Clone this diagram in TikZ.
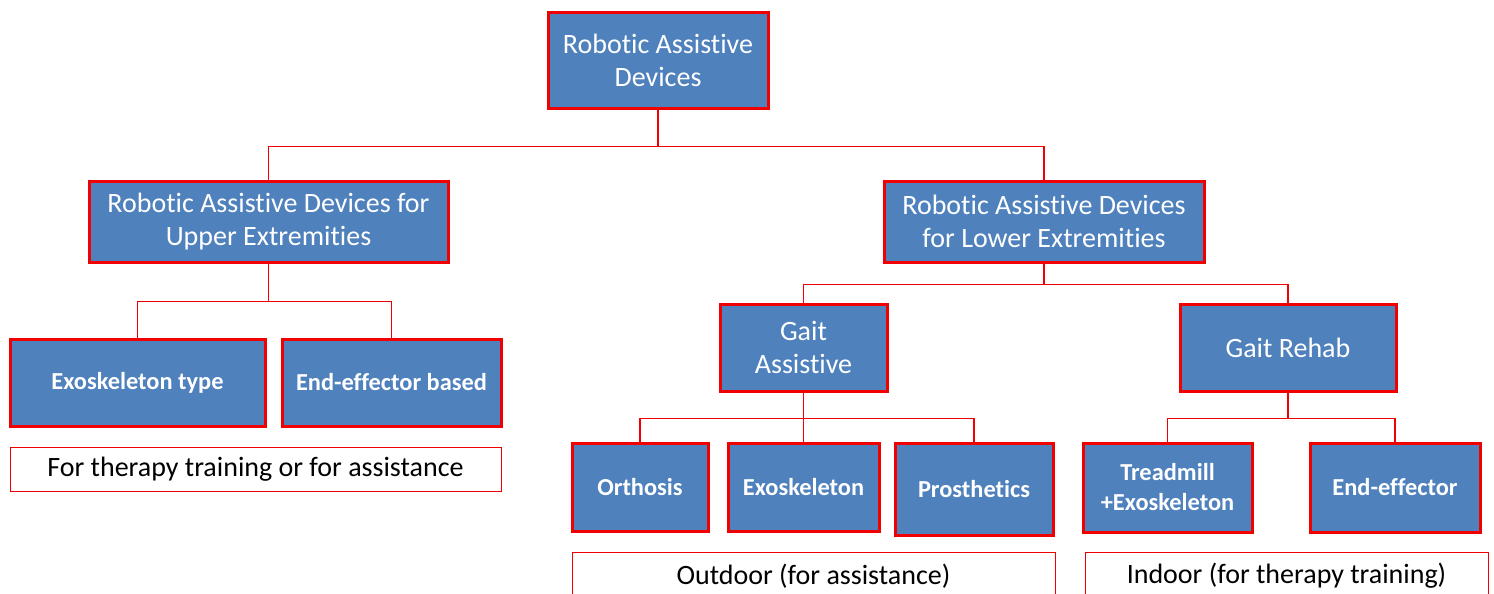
\documentclass[tikz,border=0pt]{standalone}
\usepackage{fontspec}
\setmainfont[Ligatures=NoCommon]{Carlito}
\usepackage{tikz}
\definecolor{boxblue}{RGB}{79,129,189}
\definecolor{boxred}{RGB}{240,0,0}
\tikzset{
  catbox/.style={draw=boxred, line width=1.5pt, fill=boxblue, text=white, align=center, inner sep=0pt, font=\fontsize{14}{16.5}\selectfont},
  leafbox/.style={catbox, font=\fontsize{12.2}{15}\selectfont\bfseries},
  notebox/.style={draw=boxred, line width=0.5pt, fill=white, inner sep=0pt, font=\fontsize{14}{16}\selectfont},
  link/.style={draw=boxred, line width=0.6pt},
}

\begin{document}
\begin{tikzpicture}[x=0.5pt, y=-0.5pt]
    \clip (0,0) rectangle (1494,594);

    % Top level
    \node[catbox, minimum width=110pt, minimum height=48pt] (root) at (658,60) {Robotic Assistive\\Devices};

    % Second level
    \node[catbox, minimum width=179.5pt, minimum height=40.5pt] (upper) at (268.5,221.5) {Robotic Assistive Devices for\\Upper Extremities};
    \node[catbox, minimum width=160pt, minimum height=40.5pt] (lower) at (1044,221.5) {Robotic Assistive Devices\\for Lower Extremities};

    % Upper extremities: types
    \node[leafbox, minimum width=127.5pt, minimum height=43.5pt] (exotype) at (137.5,382.5) {Exoskeleton type};
    \node[leafbox, minimum width=109.5pt, minimum height=43.5pt] (endbased) at (391.5,382.5) {End-effector based};
    \node[notebox, minimum width=245.5pt, minimum height=22pt] (usenote) at (255.5,469) {For therapy training or for assistance};

    % Lower extremities: gait
    \node[catbox, minimum width=83.5pt, minimum height=43.5pt] (gaitassist) at (803.5,347.5) {Gait\\Assistive};
    \node[catbox, minimum width=108pt, minimum height=43.5pt] (gaitrehab) at (1288,347.5) {Gait Rehab};

    % Gait assistive: types
    \node[leafbox, minimum width=68pt, minimum height=44pt] (orthosis) at (640,487) {Orthosis};
    \node[leafbox, minimum width=75.5pt, minimum height=44pt] (exoskel) at (803.5,487) {Exoskeleton};
    \node[leafbox, minimum width=79pt, minimum height=46pt] (prosth) at (974,489) {Prosthetics};
    \node[notebox, minimum width=241.5pt, minimum height=24pt] (outdoor) at (813.5,576) {Outdoor (for assistance)};

    % Gait rehab: types
    \node[leafbox, minimum width=84.5pt, minimum height=44.5pt] (treadmill) at (1167.5,487.5) {Treadmill\\+Exoskeleton};
    \node[leafbox, minimum width=85pt, minimum height=44.5pt] (endeff) at (1395,487.5) {End-effector};
    \node[notebox, minimum width=201.5pt, minimum height=24pt] (indoor) at (1286.5,576) {Indoor (for therapy training)};

    % Connectors
    \draw[link] (root.south) -- ++(0,37) -| (upper.north);
    \draw[link] (root.south) -- ++(0,37) -| (lower.north);
    \draw[link] (upper.south) -- ++(0,38) -| (exotype.north);
    \draw[link] (upper.south) -- ++(0,38) -| (endbased.north);
    \draw[link] (lower.south) -- ++(0,21) -| (gaitassist.north);
    \draw[link] (lower.south) -- ++(0,21) -| (gaitrehab.north);
    \draw[link] (gaitassist.south) -- ++(0,26) -| (orthosis.north);
    \draw[link] (gaitassist.south) -- (exoskel.north);
    \draw[link] (gaitassist.south) -- ++(0,26) -| (prosth.north);
    \draw[link] (gaitrehab.south) -- ++(0,26) -| (treadmill.north);
    \draw[link] (gaitrehab.south) -- ++(0,26) -| (endeff.north);
\end{tikzpicture}
\end{document}
